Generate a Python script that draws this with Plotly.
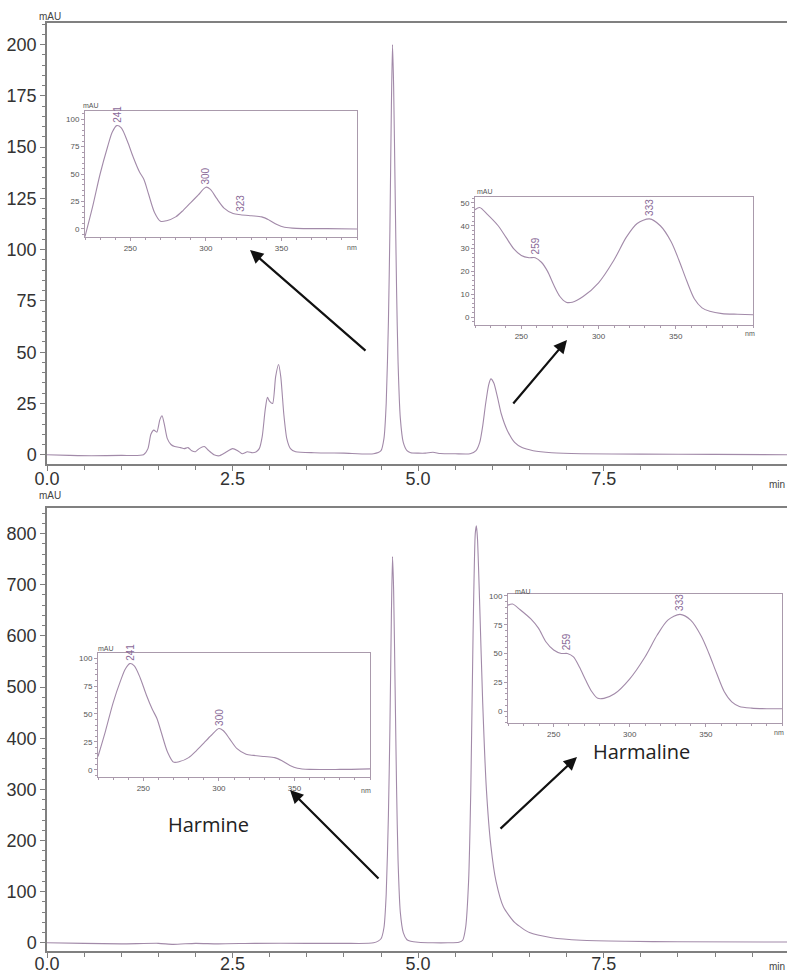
import plotly.graph_objects as go

W, H = 787, 973

# ---- chromatogram, upper trace (retention time in min, absorbance in mAU) ----
t_top = [0.0, 0.3, 0.6, 1.0, 1.3, 1.36, 1.40, 1.44, 1.48, 1.52, 1.55, 1.58, 1.62, 1.67,
         1.72, 1.80, 1.85, 1.90, 1.95, 2.00, 2.05, 2.12, 2.18, 2.25, 2.32, 2.40, 2.50,
         2.57, 2.63, 2.70, 2.77, 2.82, 2.86, 2.90, 2.94, 2.97, 3.00, 3.04, 3.08, 3.12,
         3.15, 3.19, 3.23, 3.28, 3.35, 3.60, 4.00, 4.40, 4.50, 4.54, 4.57, 4.60, 4.62,
         4.64, 4.655, 4.67, 4.69, 4.71, 4.73, 4.76, 4.80, 4.85, 4.90, 5.00, 5.10, 5.20,
         5.30, 5.50, 5.70, 5.78, 5.83, 5.87, 5.91, 5.95, 5.98, 6.02, 6.07, 6.12, 6.20,
         6.30, 6.40, 6.55, 6.80, 7.20, 8.00, 9.00, 10.0]
a_top = [0.0, -0.3, -0.5, -0.3, 0.0, 3, 10, 12, 11, 17, 19, 15, 8, 5,
         4, 3.5, 3, 3.5, 2, 1.5, 3, 4, 2, 0, -0.5, 1, 3,
         2, 0.5, 1.5, 1, 1.5, 3, 9, 22, 28, 26, 25, 38, 44,
         38, 20, 8, 3, 1.5, 1, 0.8, 0.5, 2, 8, 25, 65, 110,
         170, 200, 180, 130, 80, 45, 18, 6, 2, 1, 0.8, 0.8, 1.2,
         0.6, 0.5, 0.5, 2, 6, 14, 25, 34, 37, 35, 28, 20, 12,
         6, 3.5, 2, 1, 0.5, 0.3, 0.2, 0.0]

# ---- chromatogram, lower trace ----
t_bot = [0.0, 0.5, 1.0, 1.5, 1.7, 2.0, 2.3, 2.8, 3.5, 4.0, 4.4, 4.50, 4.54, 4.57, 4.60,
         4.62, 4.64, 4.655, 4.67, 4.69, 4.71, 4.73, 4.76, 4.80, 4.85, 4.90, 5.00, 5.20,
         5.40, 5.55, 5.60, 5.64, 5.68, 5.71, 5.74, 5.77, 5.785, 5.80, 5.83, 5.87, 5.92,
         5.98, 6.05, 6.15, 6.30, 6.50, 6.80, 7.20, 7.80, 8.50, 10.0]
a_bot = [0, -1, -2, -1, -3, -1, -2, -1, -1, -1, 0, 8, 30, 95, 250,
         420, 640, 755, 690, 500, 300, 160, 60, 20, 6, 3, 1, 0,
         0, 1, 5, 30, 120, 300, 600, 800, 815, 790, 660, 470, 300,
         190, 120, 70, 40, 20, 10, 5, 3, 2, 1.5]

# ---- UV spectra (wavelength in nm, absorbance in mAU) ----
nm_harmine = [220, 225, 230, 235, 238, 241, 244, 248, 252, 256, 259, 262, 266, 270, 274,
              280, 285, 290, 295, 300, 303, 307, 312, 318, 323, 330, 337, 342, 347, 352,
              360, 380, 400]
uv_harmine_a = [-7, 20, 50, 75, 88, 94, 92, 80, 65, 52, 45, 32, 15, 7, 7.5,
                11, 17, 24, 31, 38, 36, 28, 19, 14, 13, 12, 11, 8, 4, 1.5,
                0.5, 0.3, 0.0]
uv_harmine_b = [12, 35, 60, 80, 90, 95, 93, 82, 67, 54, 46, 33, 16, 7, 7.5,
                11, 17, 24, 31, 37, 35, 28, 19, 14, 13, 12, 11, 8, 4, 1.5,
                0.5, 0.5, 1.0]

nm_harmaline = [220, 223, 228, 235, 240, 245, 250, 255, 259, 263, 267, 271, 275, 279, 283,
                290, 300, 310, 318, 325, 333, 340, 347, 352, 357, 362, 367, 372, 380, 390, 400]
uv_harmaline_a = [47, 48, 45, 40, 35, 30, 27, 26, 26, 24, 20, 14, 9, 6.5, 6.5,
                  9, 15, 25, 35, 41, 43, 40, 33, 25, 16, 8, 4, 2.5, 1.5, 1.2, 1.0]
uv_harmaline_b = [92, 93, 88, 80, 72, 60, 53, 50, 50, 47, 38, 27, 17, 11, 11,
                  15, 28, 47, 66, 79, 84, 79, 65, 50, 33, 17, 8, 4, 2.5, 2, 2]

# peak maxima marked on each spectrum: (wavelength, absorbance)
marks_tl = [(241, 94), (300, 38), (323, 13)]
marks_tr = [(259, 26), (333, 43)]
marks_bl = [(241, 95), (300, 37)]
marks_br = [(259, 50), (333, 84)]

LINE = "#a28aa9"
FRAME = "#aa9aac"
AXIS = "#808080"
MARK = "#8a6a98"


def px_x(x):
    return x / W


def px_y(y):
    return 1 - y / H


fig = go.Figure()
fig.add_trace(go.Scatter(x=t_top, y=a_top, mode="lines", line=dict(color=LINE, width=1.1, shape="spline", smoothing=0.6),
                         xaxis="x", yaxis="y", hoverinfo="skip"))
fig.add_trace(go.Scatter(x=t_bot, y=a_bot, mode="lines", line=dict(color=LINE, width=1.1, shape="spline", smoothing=0.6),
                         xaxis="x2", yaxis="y2", hoverinfo="skip"))

insets = [
    ("x3", "y3", nm_harmine, uv_harmine_a),
    ("x4", "y4", nm_harmaline, uv_harmaline_a),
    ("x5", "y5", nm_harmine, uv_harmine_b),
    ("x6", "y6", nm_harmaline, uv_harmaline_b),
]
for xa, ya, xs, ys in insets:
    fig.add_trace(go.Scatter(x=xs, y=ys, mode="lines", line=dict(color=LINE, width=1.1, shape="spline", smoothing=0.8),
                             xaxis=xa, yaxis=ya, hoverinfo="skip"))

main_font = dict(family="Liberation Sans, Arial", size=18, color="#333333")
small_font = dict(family="Liberation Sans, Arial", size=8, color="#555555")

xdom = [px_x(47), 1.0]


def main_x(anchor, standoff):
    return dict(domain=xdom, anchor=anchor, range=[0, 9.97], tickmode="array",
                tickvals=[0, 2.5, 5, 7.5], ticktext=["0.0", "2.5", "5.0", "7.5"],
                ticks="outside", ticklen=5, tickcolor=AXIS, tickfont=main_font,
                ticklabelstandoff=standoff,
                minor=dict(dtick=0.5, ticks="outside", ticklen=4, tickcolor=AXIS),
                showline=True, linecolor=AXIS, linewidth=1.5, mirror=True,
                showgrid=False, zeroline=False, automargin=False)


def main_y(anchor, dom, rng, dtick, mdtick):
    return dict(domain=dom, anchor=anchor, range=rng, dtick=dtick, tick0=0,
                ticks="outside", ticklen=5, tickcolor=AXIS, tickfont=main_font,
                minor=dict(dtick=mdtick, tick0=0, ticks="outside", ticklen=3, tickcolor=AXIS),
                showline=True, linecolor=AXIS, linewidth=1.5,
                showgrid=False, zeroline=False, automargin=False)


def inset_x(anchor, x0, x1):
    return dict(domain=[px_x(x0), px_x(x1)], anchor=anchor, range=[220, 400],
                tickvals=[250, 300, 350], ticks="outside", ticklen=3, tickcolor=FRAME,
                tickfont=small_font, minor=dict(dtick=10, tick0=0, ticks="outside", ticklen=2, tickcolor=FRAME),
                showline=True, linecolor=FRAME, linewidth=1, mirror=True,
                showgrid=False, zeroline=False, automargin=False)


def inset_y(anchor, y0, y1, rng, dtick, mdtick):
    return dict(domain=[px_y(y1), px_y(y0)], anchor=anchor, range=rng, dtick=dtick, tick0=0,
                ticks="outside", ticklen=3, tickcolor=FRAME, tickfont=small_font,
                minor=dict(dtick=mdtick, tick0=0, ticks="outside", ticklen=2, tickcolor=FRAME),
                showline=True, linecolor=FRAME, linewidth=1, mirror=True,
                showgrid=False, zeroline=False, automargin=False)


layout = dict(
    width=W, height=H, margin=dict(l=0, r=0, t=0, b=0, autoexpand=False),
    paper_bgcolor="white", plot_bgcolor="white", showlegend=False,
    xaxis=main_x("y", -7),
    yaxis=main_y("x", [px_y(464), px_y(23)], [-4.5, 210.5], 25, 5),
    xaxis2=main_x("y2", -9),
    yaxis2=main_y("x2", [px_y(951), px_y(508)], [-16, 850], 100, 20),
    xaxis3=inset_x("y3", 85, 357),
    yaxis3=inset_y("x3", 111, 237, [-7.3, 107.3], 25, 5),
    xaxis4=inset_x("y4", 475, 753),
    yaxis4=inset_y("x4", 197, 325, [-3.5, 52.6], 10, 2),
    xaxis5=inset_x("y5", 98, 370),
    yaxis5=inset_y("x5", 653, 777, [-6.3, 104.5], 25, 5),
    xaxis6=inset_x("y6", 508, 782),
    yaxis6=inset_y("x6", 594, 723, [-10.4, 101.7], 25, 5),
)
fig.update_layout(**layout)

ann = []
# unit labels
unit_font = dict(family="Liberation Sans, Arial", size=10, color="#444444")
tiny_font = dict(family="Liberation Sans, Arial", size=7, color="#555555")
for x, y, txt, f in [(50, 17, "mAU", unit_font), (50, 495, "mAU", unit_font),
                     (777, 484, "min", unit_font), (777, 966, "min", unit_font),
                     (91, 105, "mAU", tiny_font), (485, 192, "mAU", tiny_font),
                     (106, 648, "mAU", tiny_font), (523, 591, "mAU", tiny_font),
                     (352, 247, "nm", tiny_font), (750, 334, "nm", tiny_font),
                     (366, 790, "nm", tiny_font), (779, 732, "nm", tiny_font)]:
    ann.append(dict(x=px_x(x), y=px_y(y), xref="paper", yref="paper", text=txt,
                    showarrow=False, font=f, xanchor="center", yanchor="middle"))

# wavelength labels at the spectral maxima
for (xa, ya), marks in [(("x3", "y3"), marks_tl), (("x4", "y4"), marks_tr),
                        (("x5", "y5"), marks_bl), (("x6", "y6"), marks_br)]:
    for wl, ab in marks:
        ann.append(dict(x=wl, y=ab, xref=xa, yref=ya, text=str(wl), textangle=-90,
                        showarrow=False, yanchor="bottom", yshift=1,
                        font=dict(family="Liberation Sans, Arial", size=10, color=MARK)))

# arrows pointing from the peaks to their spectra: (head_x, head_y, tail_x, tail_y)
arrows = [(250, 250, 367, 352), (567, 340, 512, 405), (290, 790, 380, 880), (577, 757, 499, 830)]
for hx, hy, tx, ty in arrows:
    ann.append(dict(x=px_x(hx), y=px_y(hy), xref="paper", yref="paper", ax=tx - hx, ay=ty - hy,
                    text="", showarrow=True, arrowhead=2, arrowsize=1.2, arrowwidth=2.2,
                    arrowcolor="#111111"))

name_font = dict(family="Open Sans, Noto Sans", size=20, color="#222222")
ann.append(dict(x=px_x(208), y=px_y(824), xref="paper", yref="paper", text="Harmine",
                showarrow=False, font=name_font, xanchor="center", yanchor="middle"))
ann.append(dict(x=px_x(641), y=px_y(751), xref="paper", yref="paper", text="Harmaline",
                showarrow=False, font=name_font, xanchor="center", yanchor="middle"))

fig.update_layout(annotations=ann)
fig.write_html("out.html")
